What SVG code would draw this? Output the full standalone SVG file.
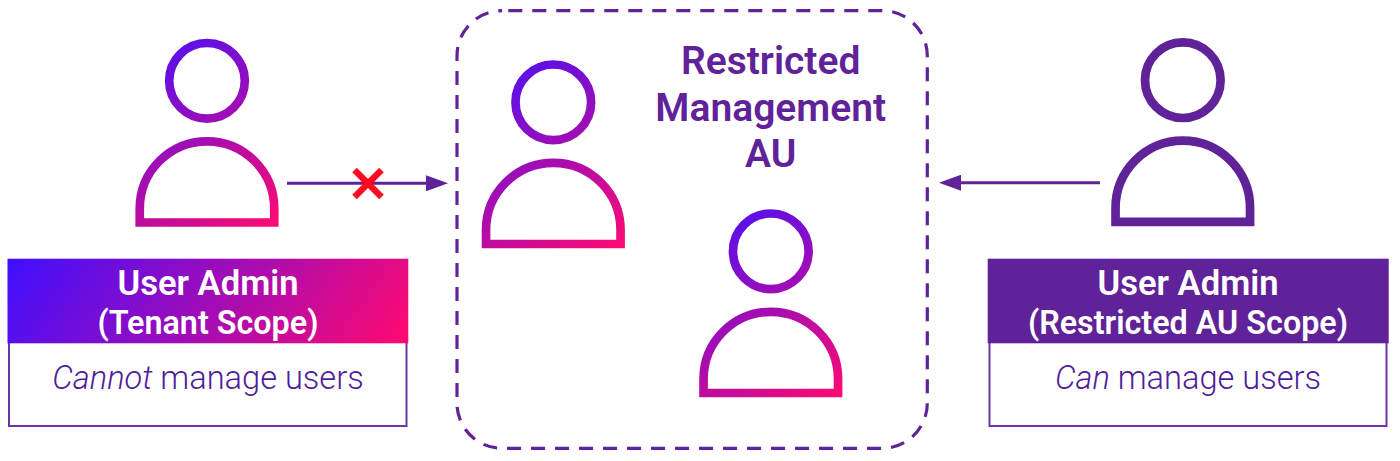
<svg xmlns="http://www.w3.org/2000/svg" width="1400" height="461" viewBox="0 0 1400 461">
<style>
text{font-family:Roboto,"Liberation Sans",sans-serif;text-anchor:middle}
.head{font-size:34.6px;font-weight:600;fill:#fff}
.scope{font-size:32.3px;font-weight:600;fill:#fff}
.sub{font-size:32.6px;font-weight:300;fill:#4f1d9a}
.title{font-size:39px;font-weight:600;fill:#5f2299}
.sub tspan{font-style:italic}
.hd{fill:none;stroke-width:8.7}
.grad{stroke:url(#pg)}
.solid{stroke:#5f2299}
.box{fill:#fff;stroke:#6a35a8;stroke-width:2}
.conn{fill:none;stroke:#5f2299;stroke-width:3}
</style>
<defs>
<linearGradient id="pg" gradientUnits="userSpaceOnUse" x1="-55" y1="-35" x2="72" y2="146">
<stop offset="0" stop-color="#5010f0"/><stop offset="1" stop-color="#ff0a70"/>
</linearGradient>
<linearGradient id="hg" gradientUnits="userSpaceOnUse" x1="7.5" y1="259" x2="315.5" y2="474.6">
<stop offset="0" stop-color="#3f0fff"/><stop offset="1" stop-color="#ff0a70"/>
</linearGradient>
<marker id="ah" markerUnits="userSpaceOnUse" markerWidth="22" markerHeight="16" refX="1" refY="8" orient="auto">
<path d="M0 0L22 8L0 16Z" fill="#5f2299"/>
</marker>
<g id="person-shape">
<circle cx="0" cy="0" r="37.8"/>
<path d="M-67.25 141.7V127.75A67.25 67.25 0 0 1 67.25 127.75V141.7Z"/>
</g>
</defs>
<rect width="1400" height="461" fill="#fff"/>
<g id="connectors">
<path class="conn" d="M287 183.3H427" marker-end="url(#ah)"/>
<path class="conn" d="M1100 182.7H960" marker-end="url(#ah)"/>
<path d="M354.5 170L381.5 197M381.5 170L354.5 197" fill="none" stroke="#ff0a1e" stroke-width="6.5"/>
</g>
<g id="au-group">
<rect x="457" y="10.7" width="470.3" height="437.6" rx="45" ry="45" fill="none" stroke="#5f2299" stroke-width="3.2" stroke-dasharray="14 10" stroke-dashoffset="17.7"/>
<text class="title" x="770.7" y="73.5">Restricted</text>
<text class="title" x="770.7" y="120.8">Management</text>
<text class="title" x="770.7" y="167">AU</text>
</g>
<g id="user-tenant" class="hd grad" transform="translate(207 80.8)"><use href="#person-shape"/></g>
<g id="user-member-1" class="hd grad" transform="translate(553.3 102.3)"><use href="#person-shape"/></g>
<g id="user-member-2" class="hd grad" transform="translate(770.8 251.3)"><use href="#person-shape"/></g>
<g id="user-restricted" class="hd solid" transform="translate(1182.8 80.2)"><use href="#person-shape"/></g>
<g id="card-tenant">
<rect class="box" x="9" y="340" width="397.5" height="86"/>
<rect x="7.5" y="258.7" width="400.8" height="84.6" fill="url(#hg)"/>
<text class="head" x="208" y="294.6">User Admin</text>
<text class="scope" x="208" y="333.8">(Tenant Scope)</text>
<text class="sub" x="208" y="388.6"><tspan>Cannot</tspan> manage users</text>
</g>
<g id="card-restricted">
<rect class="box" x="989.5" y="340" width="397" height="86"/>
<rect x="987.7" y="258.7" width="401" height="84.6" fill="#5f2299"/>
<text class="head" x="1188" y="294.6">User Admin</text>
<text class="scope" x="1188" y="333.8">(Restricted AU Scope)</text>
<text class="sub" x="1188" y="388.6"><tspan>Can</tspan> manage users</text>
</g>
</svg>
